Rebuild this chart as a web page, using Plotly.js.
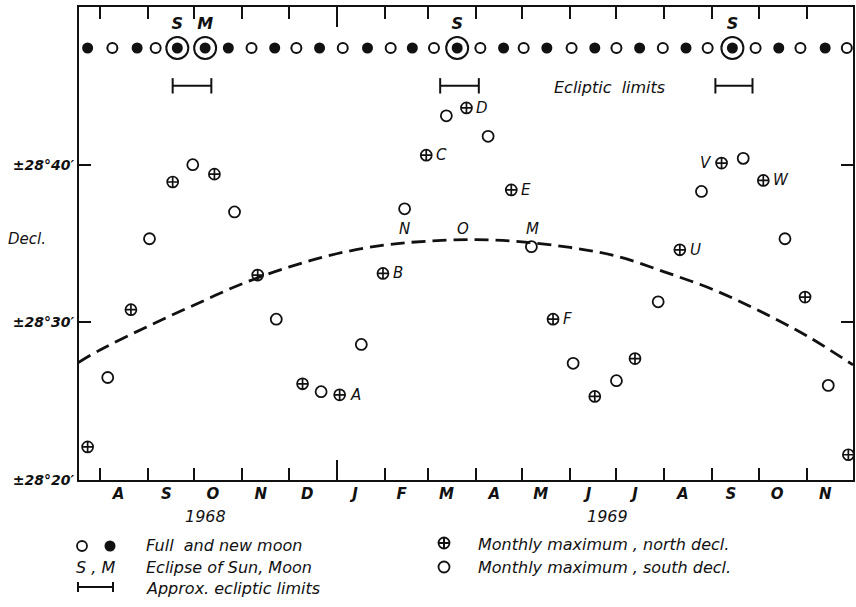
<!DOCTYPE html>
<html>
<head>
<meta charset="utf-8">
<script src="https://cdn.plot.ly/plotly-3.0.1.min.js"></script>
<style>html,body{margin:0;padding:0;background:#fff;}</style>
</head>
<body>
<div id="chart" style="width:856px;height:607px;"></div>
<script>
// ---------------- data ----------------
const northDates = ['1968-07-24','1968-08-21','1968-09-17','1968-10-14','1968-11-11','1968-12-10','1969-01-03','1969-01-31','1969-02-28','1969-03-26','1969-04-24','1969-05-21','1969-06-17','1969-07-13','1969-08-11','1969-09-07','1969-10-04','1969-10-31','1969-11-28'];
const northDecl  = [22.1,30.8,38.9,39.4,33.0,26.1,25.4,33.1,40.6,43.6,38.4,30.2,25.3,27.7,34.6,40.1,39.0,31.6,21.6];
const northLabels = ['','','','','','','A','B','C','D','E','F','','','U','V','W','',''];

const southDates = ['1968-08-06','1968-09-02','1968-09-30','1968-10-27','1968-11-23','1968-12-22','1969-01-17','1969-02-14','1969-03-13','1969-04-09','1969-05-07','1969-06-03','1969-07-01','1969-07-28','1969-08-25','1969-09-21','1969-10-18','1969-11-15'];
const southDecl  = [26.5,35.3,40.0,37.0,30.2,25.6,28.6,37.2,43.1,41.8,34.8,27.4,26.3,31.3,38.3,40.4,35.3,26.0];

const curveDates = ['1968-07-18','1968-08-01','1968-09-01','1968-10-01','1968-11-01','1968-12-01','1969-01-01','1969-02-01','1969-03-01','1969-04-01','1969-05-01','1969-06-01','1969-07-01','1969-08-01','1969-09-01','1969-10-01','1969-11-01','1969-12-01'];
const curveDecl  = [27.45,28.25,29.75,31.1,32.45,33.5,34.35,34.9,35.15,35.25,35.1,34.75,34.2,33.2,32.1,30.75,29.15,27.3];
const curveLabelText  = ['N','O','M'];
const curveLabelDates = ['1969-02-14','1969-03-24','1969-05-08'];
const curveLabelDecl  = [35.95,35.95,35.95];

const newMoons  = ['1968-07-24','1968-08-25','1968-10-23','1968-11-22','1968-12-21','1969-01-21','1969-02-19','1969-04-19','1969-05-17','1969-06-17','1969-07-16','1969-08-15','1969-10-14','1969-11-13'];
const fullMoons = ['1968-08-09','1968-09-06','1968-11-07','1968-12-06','1969-01-05','1969-02-05','1969-03-05','1969-04-04','1969-05-02','1969-06-02','1969-07-01','1969-07-31','1969-08-29','1969-09-29','1969-10-28','1969-11-27'];
const eclipseDates = ['1968-09-20','1968-10-08','1969-03-20','1969-09-14'];
const eclipseKinds = ['S','M','S','S'];

const limitStart = ['1968-09-17','1969-03-09','1969-09-03'];
const limitEnd   = ['1968-10-12','1969-04-03','1969-09-27'];

const monthStarts = ['1968-08-01','1968-09-01','1968-10-01','1968-11-01','1968-12-01','1969-02-01','1969-03-01','1969-04-01','1969-05-01','1969-06-01','1969-07-01','1969-08-01','1969-09-01','1969-10-01','1969-11-01'];
const yearStart = ['1969-01-01'];
const monthMids = ['1968-08-13','1968-09-13','1968-10-13','1968-11-13','1968-12-13','1969-01-13','1969-02-12','1969-03-13','1969-04-13','1969-05-13','1969-06-13','1969-07-13','1969-08-13','1969-09-13','1969-10-13','1969-11-13'];
const monthLetters = ['A','S','O','N','D','J','F','M','A','M','J','J','A','S','O','N'];
const yearLabels = ['1968','1969'];

const yTickVals = [20,30,40];
const yTickText = ['±28°20′','±28°30′','±28°40′'];

// ---------------- layout constants ----------------
const X_RANGE = ['1968-07-18 10:00','1969-12-01'];
const Y_RANGE = [20,50];
const MOON_ROW = 47.4;
const LIMIT_ROW = 45;
const FONT = 'DejaVu Sans, Arial, sans-serif';
const INK = '#111';
const ML = 79, MR = 3, MT = 7, MB = 127, W = 856, H = 607;
const PW = W - ML - MR, PH = H - MT - MB;
const px = x => (x - ML) / PW;
const py = y => (H - MB - y) / PH;
const itFont = (size, weight) => ({family: FONT, size: size, color: INK, style: 'italic', weight: weight || 'normal'});

const traces = [];
// dashed curve
traces.push({x: curveDates, y: curveDecl, type: 'scatter', mode: 'lines',
  line: {color: INK, width: 2.8, dash: '14px,7px', shape: 'spline', smoothing: 1}, hoverinfo: 'skip'});
// monthly maxima
traces.push({x: northDates, y: northDecl, type: 'scatter', mode: 'markers',
  marker: {symbol: 'circle-cross-open', size: 11, color: INK, line: {width: 1.7, color: INK}}});
traces.push({x: southDates, y: southDecl, type: 'scatter', mode: 'markers',
  marker: {symbol: 'circle-open', size: 11, color: INK, line: {width: 1.8, color: INK}}});
// moon phases
traces.push({x: newMoons, y: newMoons.map(() => MOON_ROW), type: 'scatter', mode: 'markers',
  marker: {symbol: 'circle', size: 11, color: INK}});
traces.push({x: fullMoons, y: fullMoons.map(() => MOON_ROW), type: 'scatter', mode: 'markers',
  marker: {symbol: 'circle-open', size: 10, color: INK, line: {width: 2, color: INK}}});
traces.push({x: eclipseDates, y: eclipseDates.map(() => MOON_ROW), type: 'scatter', mode: 'markers',
  marker: {symbol: 'circle', size: 11, color: INK}});
traces.push({x: eclipseDates, y: eclipseDates.map(() => MOON_ROW), type: 'scatter', mode: 'markers+text',
  text: eclipseKinds, textposition: 'top center', textfont: itFont(16, 'bold'),
  marker: {symbol: 'circle-open', size: 22, color: INK, line: {width: 2, color: INK}}});
// ecliptic limits
const lx = [], ly = [];
limitStart.forEach((s, i) => { lx.push(s, limitEnd[i], null); ly.push(LIMIT_ROW, LIMIT_ROW, null); });
traces.push({x: lx, y: ly, type: 'scatter', mode: 'lines+markers',
  line: {color: INK, width: 2},
  marker: {symbol: 'line-ns-open', size: 11, color: INK, line: {width: 2, color: INK}}});
// helper axes
traces.push({x: [], y: [], xaxis: 'x2', yaxis: 'y', type: 'scatter', mode: 'markers'});
traces.push({x: [], y: [], xaxis: 'x3', yaxis: 'y', type: 'scatter', mode: 'markers'});

const annotations = [];
northLabels.forEach((t, i) => {
  if (!t) return;
  const left = (t === 'V');
  annotations.push({x: northDates[i], y: northDecl[i], text: t, showarrow: false,
    xanchor: left ? 'right' : 'left', xshift: left ? -8 : 8, yanchor: 'middle',
    font: itFont(15)});
});
curveLabelText.forEach((t, i) => {
  annotations.push({x: curveLabelDates[i], y: curveLabelDecl[i], text: t, showarrow: false,
    xanchor: 'center', yanchor: 'middle', font: itFont(15)});
});
annotations.push({xref: 'paper', yref: 'paper', x: px(609), y: py(87), text: 'Ecliptic  limits',
  showarrow: false, xanchor: 'center', yanchor: 'middle', font: itFont(16)});
annotations.push({xref: 'paper', yref: 'paper', x: px(6), y: py(239), text: 'Decl.',
  showarrow: false, xanchor: 'left', yanchor: 'middle', font: itFont(15)});
[205, 607].forEach((cx, i) => annotations.push({xref: 'paper', yref: 'paper', x: px(cx), y: py(516),
  text: yearLabels[i], showarrow: false, xanchor: 'center', yanchor: 'middle', font: itFont(16)}));
// legend texts
const legText = [
  [144, 545, 'Full  and new moon'],
  [144, 567, 'Eclipse of Sun, Moon'],
  [144, 588, 'Approx. ecliptic limits'],
  [476, 544, 'Monthly maximum , north decl.'],
  [476, 567, 'Monthly maximum , south decl.'],
  [74, 567, 'S , M']
];
legText.forEach(([x, y, t]) => annotations.push({xref: 'paper', yref: 'paper', x: px(x), y: py(y),
  text: t, showarrow: false, xanchor: 'left', yanchor: 'middle', font: itFont(16)}));

// legend keys (layout shapes)
const shapes = [];
const circ = (cx, cy, d, filled) => shapes.push({type: 'circle', xref: 'paper', yref: 'paper',
  xsizemode: 'pixel', ysizemode: 'pixel', xanchor: px(cx), yanchor: py(cy),
  x0: -d / 2, x1: d / 2, y0: -d / 2, y1: d / 2,
  line: {color: INK, width: filled ? 0 : 1.8}, fillcolor: filled ? INK : 'rgba(0,0,0,0)'});
const seg = (x0, y0, x1, y1) => shapes.push({type: 'line', xref: 'paper', yref: 'paper',
  x0: px(x0), y0: py(y0), x1: px(x1), y1: py(y1), line: {color: INK, width: 2}});
circ(82, 546, 10, false);
circ(110, 546, 11, true);
seg(78, 587, 113, 587); seg(78, 582, 78, 592); seg(113, 582, 113, 592);
circ(444, 543, 11, false); seg(438.5, 543, 449.5, 543); seg(444, 537.5, 444, 548.5);
circ(444, 567, 11, false);

const axisBase = {type: 'date', range: X_RANGE, showgrid: false, zeroline: false};
const layout = {
  width: W, height: H,
  margin: {l: ML, r: MR, t: MT, b: MB, pad: 0},
  paper_bgcolor: '#fff', plot_bgcolor: '#fff',
  showlegend: false,
  font: {family: FONT, color: INK},
  xaxis: Object.assign({}, axisBase, {tickmode: 'array', tickvals: monthStarts, showticklabels: false,
    ticks: 'inside', ticklen: 12, tickwidth: 2, tickcolor: INK,
    showline: true, linewidth: 2, linecolor: INK, mirror: 'ticks'}),
  xaxis2: Object.assign({}, axisBase, {overlaying: 'x', anchor: 'y', side: 'bottom',
    tickmode: 'array', tickvals: monthMids, ticktext: monthLetters, ticks: '', showline: false,
    tickfont: itFont(15, 'bold'), ticklabelstandoff: 3}),
  xaxis3: Object.assign({}, axisBase, {overlaying: 'x', anchor: 'y', side: 'bottom',
    tickmode: 'array', tickvals: yearStart, showticklabels: false,
    ticks: 'inside', ticklen: 20, tickwidth: 2, tickcolor: INK,
    showline: true, linewidth: 2, linecolor: INK, mirror: 'ticks'}),
  yaxis: {range: Y_RANGE, tickmode: 'array', tickvals: yTickVals, ticktext: yTickText,
    ticks: 'inside', ticklen: 12, tickwidth: 2, tickcolor: INK,
    showline: true, linewidth: 2, linecolor: INK, mirror: 'ticks',
    showgrid: false, zeroline: false, tickfont: itFont(14, 'bold')},
  annotations: annotations,
  shapes: shapes
};

Plotly.newPlot('chart', traces, layout, {displayModeBar: false, staticPlot: true});
</script>
</body>
</html>
